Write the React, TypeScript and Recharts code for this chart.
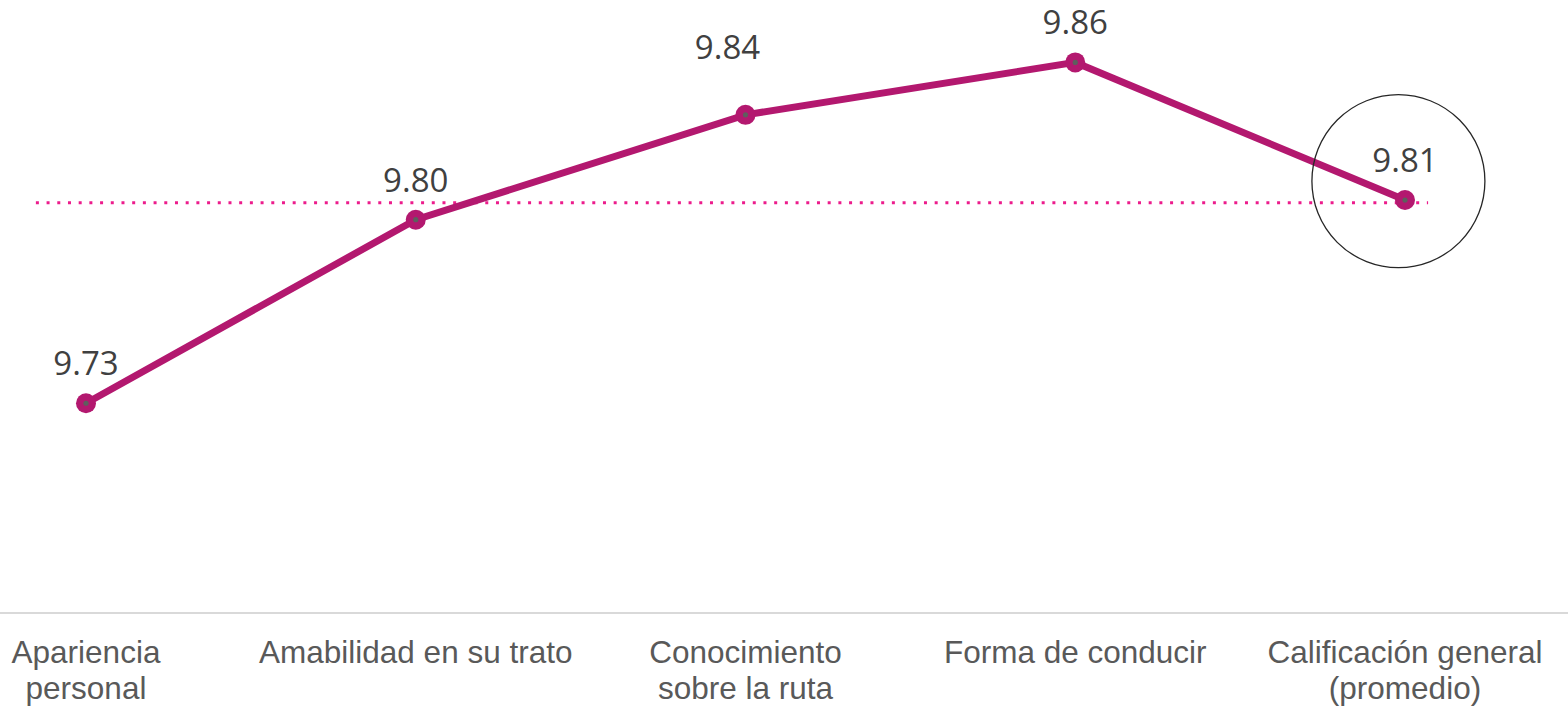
import React from "react";
import {
  LineChart,
  Line,
  XAxis,
  YAxis,
  ReferenceLine,
  ReferenceDot,
  LabelList,
} from "recharts";

const categories: string[] = [
  "Apariencia\npersonal",
  "Amabilidad en su trato",
  "Conocimiento\nsobre la ruta",
  "Forma de conducir",
  "Calificación general\n(promedio)",
];

const scores: number[] = [9.73, 9.8, 9.84, 9.86, 9.8075];

const referenceValue = 9.8065;
const tickIndexes: number[] = [0, 1, 2, 3, 4];

const data = categories.map((name, i) => ({ idx: i, name, value: scores[i] }));

const LINE = "#B3186F";
const LABEL_FONT = "'Open Sans', sans-serif";
const AXIS_FONT = "'Liberation Sans', Arial, sans-serif";

// the third label was nudged up-left in the original
const labelNudge: Record<number, { dx: number; dy: number }> = {
  2: { dx: -18, dy: -28 },
};

const ScoreDot = (props: any) => {
  const { cx, cy } = props;
  if (cx == null || cy == null) return null;
  return (
    <g>
      <circle cx={cx} cy={cy} r={10} fill={LINE} />
      <circle cx={cx} cy={cy} r={2.6} fill="#5e5e5e" />
    </g>
  );
};

const ScoreLabel = (props: any) => {
  const { x, y, value, index } = props;
  const n = labelNudge[index] || { dx: 0, dy: 0 };
  return (
    <text
      x={x + n.dx}
      y={y - 28 + n.dy}
      textAnchor="middle"
      fill="#404040"
      fontSize={33}
      fontFamily={LABEL_FONT}
    >
      {Number(value).toFixed(2)}
    </text>
  );
};

const CategoryTick = (props: any) => {
  const { x, y, payload } = props;
  const lines = String(categories[payload.value] ?? "").split("\n");
  return (
    <text
      x={x}
      y={y}
      textAnchor="middle"
      fill="#595959"
      fontSize={31.5}
      fontFamily={AXIS_FONT}
    >
      {lines.map((l, i) => (
        <tspan key={i} x={x} dy={i === 0 ? 42 : 35.5}>
          {l}
        </tspan>
      ))}
    </text>
  );
};

export default function App() {
  return (
    <div style={{ width: 1568, height: 706, background: "#fff" }}>
      <style>{`body{margin:0}`}</style>
      <LineChart
        width={1568}
        height={706}
        data={data}
        margin={{ top: 0, right: 0, bottom: 0, left: 0 }}
      >
        <XAxis
          dataKey="idx"
          type="number"
          domain={[-0.2608, 4.4943]}
          allowDataOverflow
          ticks={tickIndexes}
          interval={0}
          height={93}
          axisLine={{ stroke: "#D9D9D9", strokeWidth: 2 }}
          tickLine={false}
          tick={<CategoryTick />}
        />
        <YAxis hide domain={[9.65, 9.8838]} allowDataOverflow />
        <ReferenceLine
          segment={[
            { x: -0.152, y: referenceValue },
            { x: 4.07, y: referenceValue },
          ]}
          stroke="#EC1C8C"
          strokeWidth={3}
          strokeDasharray="3 7.7"
        />
        <Line
          dataKey="value"
          stroke={LINE}
          strokeWidth={7}
          dot={<ScoreDot />}
          activeDot={false}
          isAnimationActive={false}
        >
          <LabelList dataKey="value" content={<ScoreLabel />} />
        </Line>
        <ReferenceDot
          x={3.98}
          y={9.8147}
          r={86.5}
          fill="none"
          stroke="#262626"
          strokeWidth={1.3}
        />
      </LineChart>
    </div>
  );
}
